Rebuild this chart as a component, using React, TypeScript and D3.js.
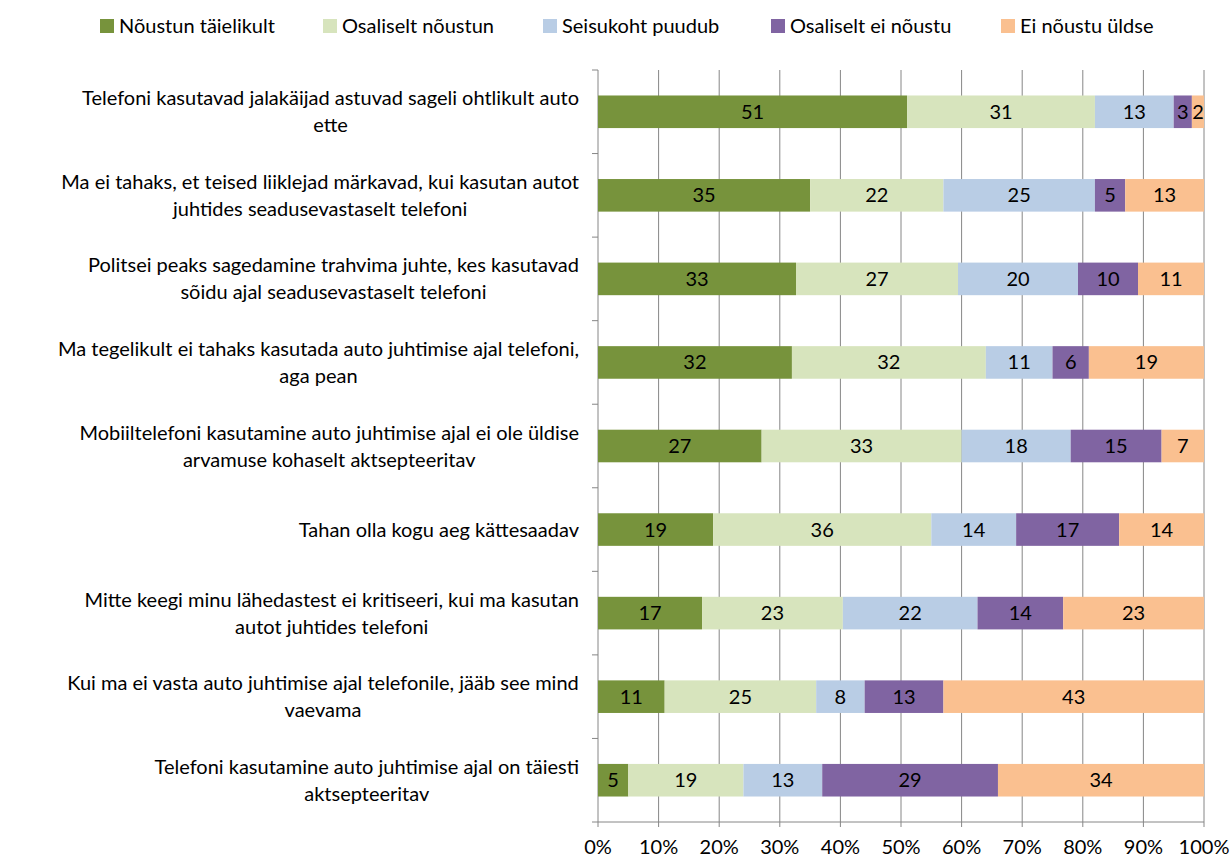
import React from "react";
import * as d3 from "d3";

const categories: string[] = [
  "Telefoni kasutavad jalakäijad astuvad sageli ohtlikult auto\nette",
  "Ma ei tahaks, et teised liiklejad märkavad, kui kasutan autot\njuhtides seadusevastaselt telefoni",
  "Politsei peaks sagedamine trahvima juhte, kes kasutavad\nsõidu ajal seadusevastaselt telefoni",
  "Ma tegelikult ei tahaks kasutada auto juhtimise ajal telefoni,\naga pean",
  "Mobiiltelefoni kasutamine auto juhtimise ajal ei ole üldise\narvamuse kohaselt aktsepteeritav",
  "Tahan olla kogu aeg kättesaadav",
  "Mitte keegi minu lähedastest ei kritiseeri, kui ma kasutan\nautot juhtides telefoni",
  "Kui ma ei vasta auto juhtimise ajal telefonile, jääb see mind\nvaevama",
  "Telefoni kasutamine auto juhtimise ajal on täiesti\naktsepteeritav",
];

const seriesNames: string[] = [
  "Nõustun täielikult",
  "Osaliselt nõustun",
  "Seisukoht puudub",
  "Osaliselt ei nõustu",
  "Ei nõustu üldse",
];

const agreeFully: number[] = [51, 35, 33, 32, 27, 19, 17, 11, 5];
const agreePartly: number[] = [31, 22, 27, 32, 33, 36, 23, 25, 19];
const noOpinion: number[] = [13, 25, 20, 11, 18, 14, 22, 8, 13];
const disagreePartly: number[] = [3, 5, 10, 6, 15, 17, 14, 13, 29];
const disagreeFully: number[] = [2, 13, 11, 19, 7, 14, 23, 43, 34];

const tickValues: number[] = [0, 0.1, 0.2, 0.3, 0.4, 0.5, 0.6, 0.7, 0.8, 0.9, 1];

const colors = ["#77933C", "#D7E4BD", "#B9CDE5", "#8064A2", "#FAC090"];

const W = 1231;
const H = 860;
const FONT = "Lato, 'Open Sans', sans-serif";
const FS = 20;

function measure(text: string, size: number): number {
  if (typeof document === "undefined") return text.length * size * 0.5;
  const c = document.createElement("canvas");
  const ctx = c.getContext("2d");
  if (!ctx) return text.length * size * 0.5;
  ctx.font = `${size}px Lato`;
  return ctx.measureText(text).width;
}

export default function App() {
  const series = [agreeFully, agreePartly, noOpinion, disagreePartly, disagreeFully];
  const rows = categories.map((c, i) => {
    const vals = series.map((s) => s[i]);
    const total = d3.sum(vals);
    let acc = 0;
    const segs = vals.map((v, k) => {
      const x0 = acc / total;
      acc += v;
      return { v, k, x0, x1: acc / total };
    });
    return { c, i, segs };
  });

  const x = d3.scaleLinear().domain([0, 1]).range([598, 1204]);
  const y = d3
    .scaleBand<number>()
    .domain(d3.range(categories.length))
    .range([70, 822])
    .paddingInner(0.61)
    .paddingOuter(0.305);
  const bandStep = (822 - 70) / categories.length;

  const legendX = [100, 323, 543, 771, 1001];
  const labelRight = 579;

  return (
    <svg width={W} height={H} style={{ position: "absolute", left: 0, top: 0 }} fontFamily={FONT}>
      <rect width={W} height={H} fill="#fff" />
      {/* legend */}
      {seriesNames.map((n, k) => (
        <g key={n}>
          <rect x={legendX[k]} y={19} width={14} height={14} fill={colors[k]} />
          <text x={legendX[k] + 19} y={33} fontSize={FS} fill="#000">
            {n}
          </text>
        </g>
      ))}
      {/* gridlines */}
      {tickValues.map((t) => (
        <line key={"g" + t} x1={x(t)} x2={x(t)} y1={70} y2={827} stroke="#868686" strokeWidth={1} />
      ))}
      {/* left axis ticks */}
      {d3.range(categories.length + 1).map((j) => (
        <line
          key={"yt" + j}
          x1={592}
          x2={598}
          y1={70 + j * bandStep}
          y2={70 + j * bandStep}
          stroke="#868686"
        />
      ))}
      <line x1={598} x2={1204} y1={822} y2={822} stroke="#868686" />
      {/* bars */}
      {rows.map((r) => (
        <g key={r.i}>
          {r.segs.map((s) => (
            <g key={s.k}>
              <rect
                x={x(s.x0)}
                y={y(r.i)!}
                width={x(s.x1) - x(s.x0)}
                height={y.bandwidth()}
                fill={colors[s.k]}
              />
              <text
                x={(x(s.x0) + x(s.x1)) / 2}
                y={y(r.i)! + y.bandwidth() / 2 + 7}
                textAnchor="middle"
                fontSize={FS}
                fill="#000"
              >
                {s.v}
              </text>
            </g>
          ))}
        </g>
      ))}
      {/* category labels */}
      {rows.map((r) => {
        const lines = r.c.split("\n");
        const maxW = d3.max(lines, (l) => measure(l, FS)) || 0;
        const cx = labelRight - maxW / 2;
        const cy = y(r.i)! + y.bandwidth() / 2;
        const lh = 27;
        const startY = cy - ((lines.length - 1) * lh) / 2 + 7;
        return (
          <text key={"l" + r.i} textAnchor="middle" fontSize={FS} fill="#000">
            {lines.map((l, j) => (
              <tspan key={j} x={cx} y={startY + j * lh}>
                {l}
              </tspan>
            ))}
          </text>
        );
      })}
      {/* x tick labels */}
      {tickValues.map((t) => (
        <text key={"xl" + t} x={x(t)} y={854} textAnchor="middle" fontSize={FS} fill="#000">
          {d3.format(".0%")(t)}
        </text>
      ))}
    </svg>
  );
}
